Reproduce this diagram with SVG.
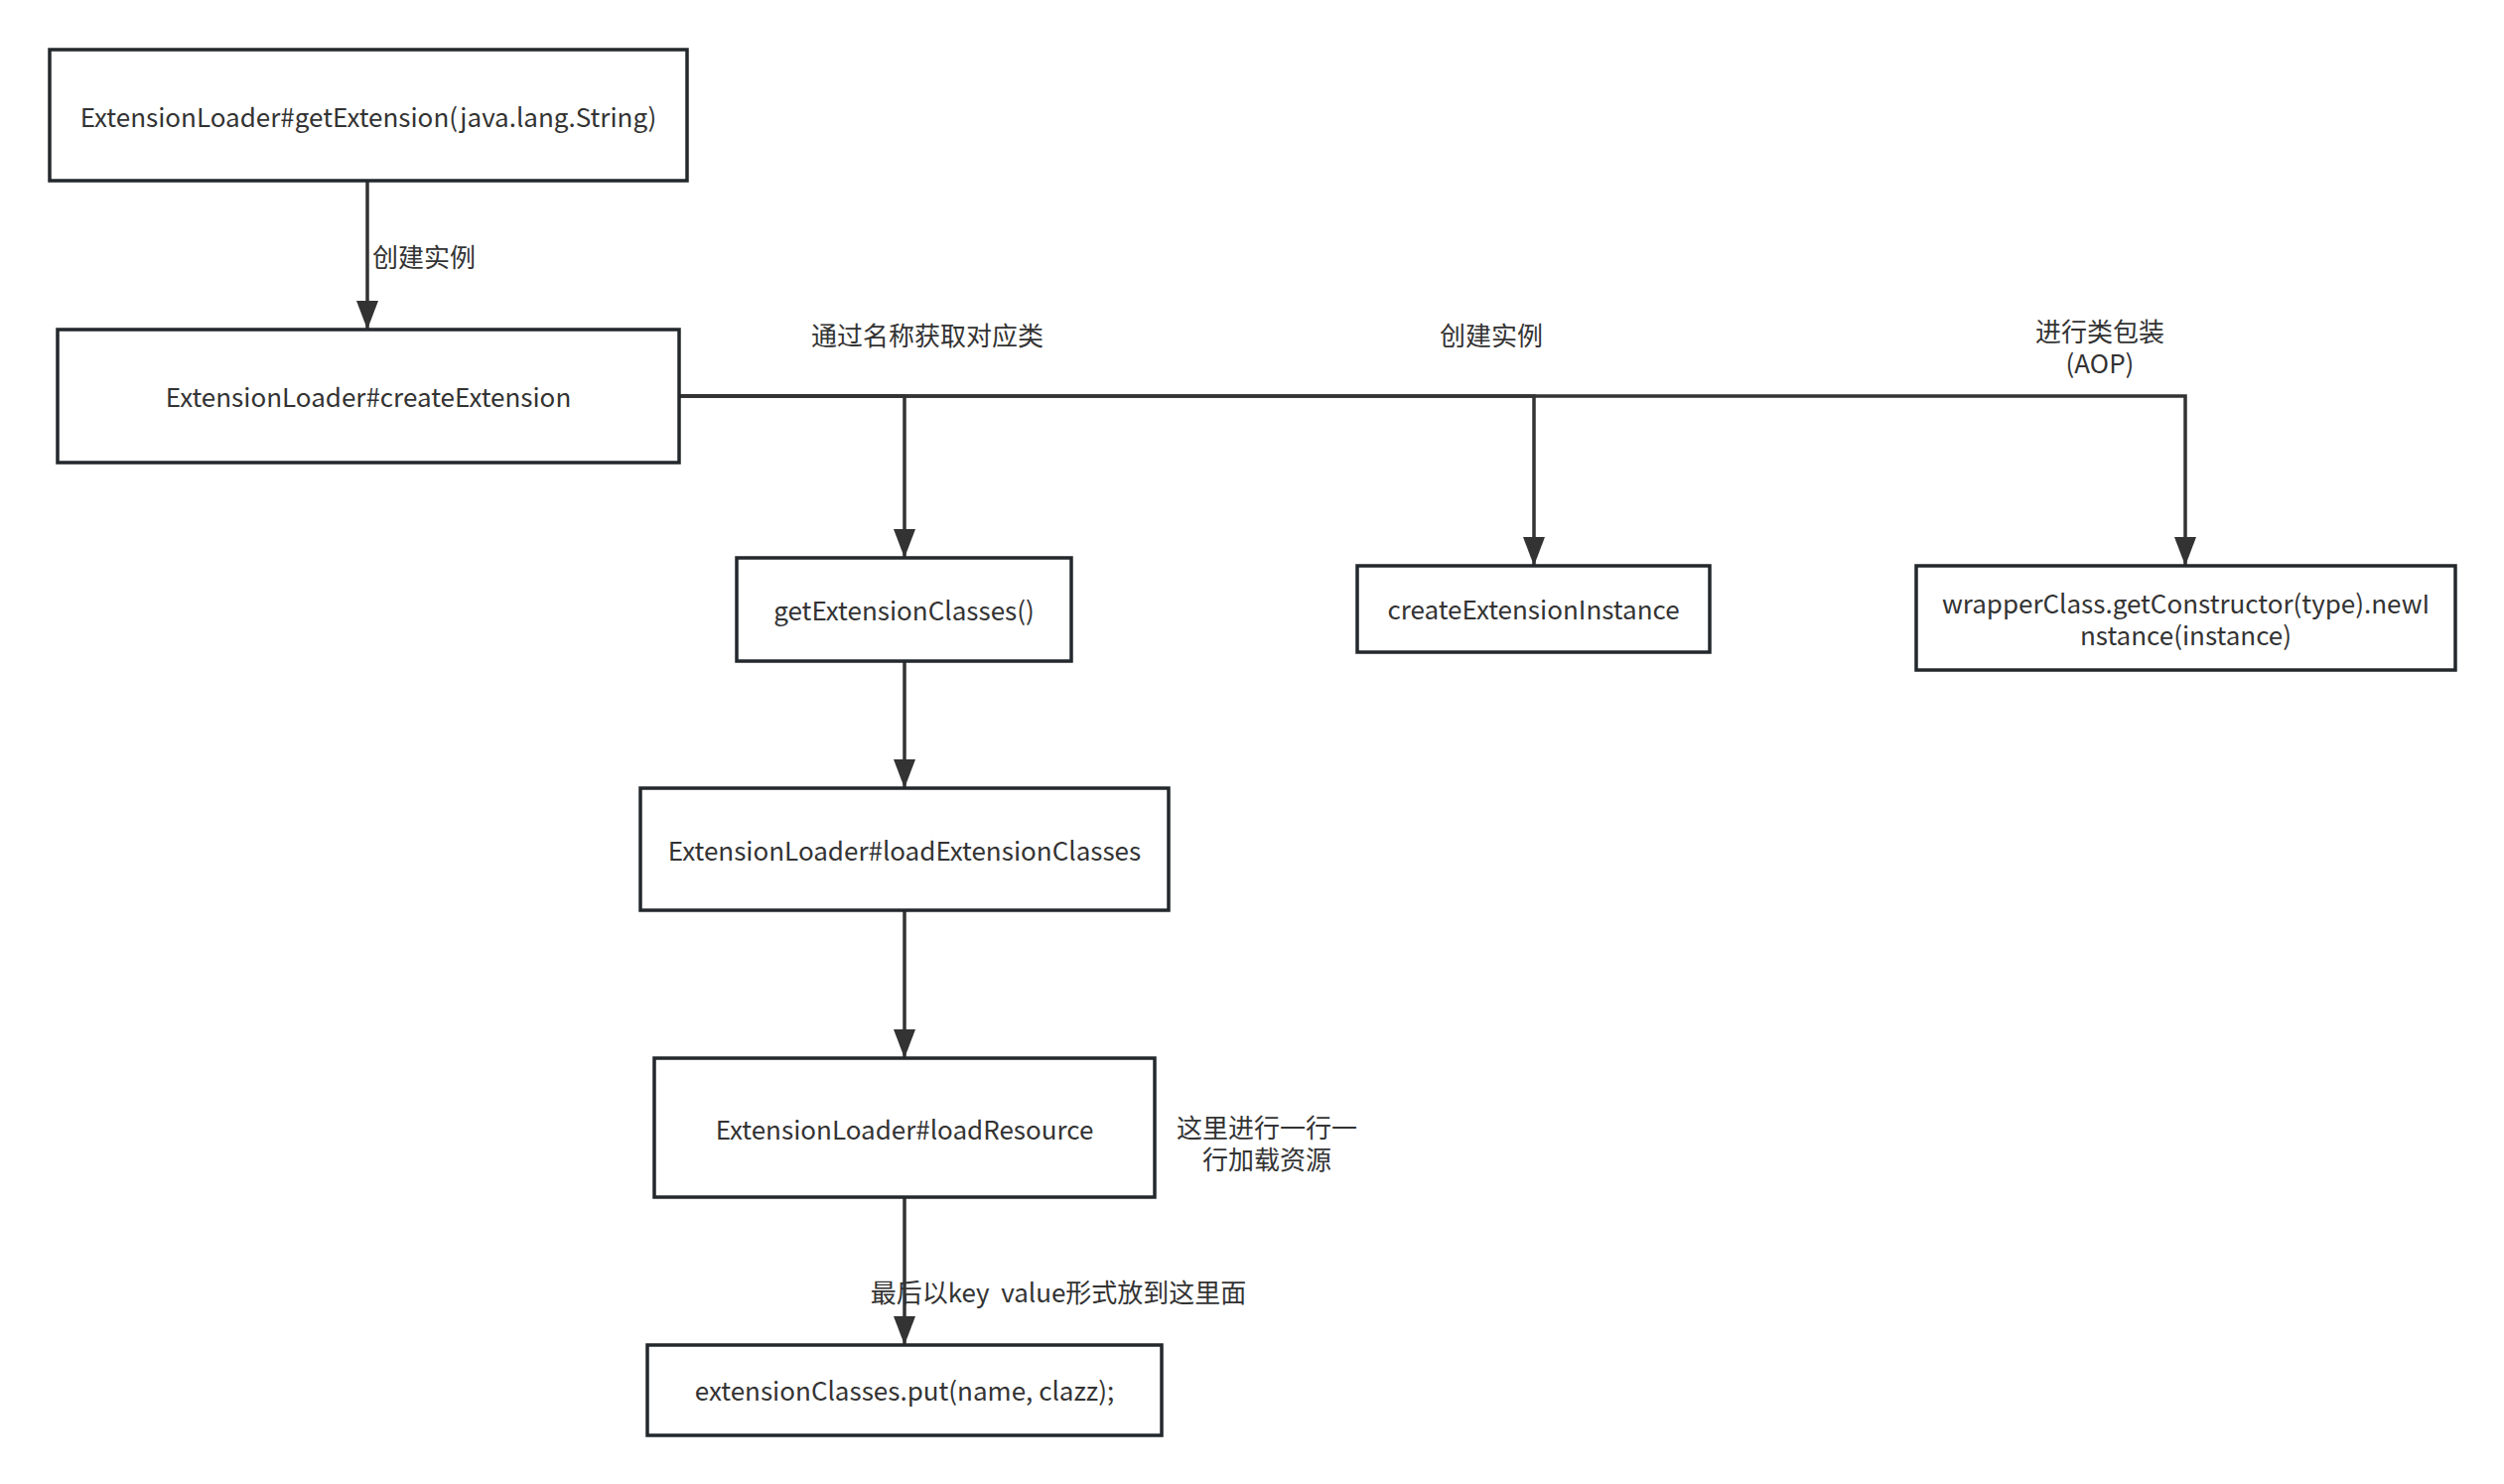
<svg xmlns="http://www.w3.org/2000/svg" width="2522" height="1495" viewBox="0 0 2522 1495">
<style>
  .box { fill: #ffffff; stroke: #23282d; stroke-width: 3.5; }
  .edge { fill: none; stroke: #333333; stroke-width: 3.5; }
  text { font-family: "Noto Sans CJK SC", "Liberation Sans", sans-serif; font-size: 26px; fill: #333333; dominant-baseline: central; white-space: pre; }
  .c { text-anchor: middle; }
</style>
<defs>
  <marker id="arr" markerUnits="userSpaceOnUse" markerWidth="32" markerHeight="24" refX="29" refY="11" orient="auto">
    <path d="M0,0 L29,11 L0,22 Z" fill="#333333"/>
  </marker>
</defs>
<rect width="2522" height="1495" fill="#ffffff"/>
<g id="connectors">
  <path class="edge" d="M370,182 V332" marker-end="url(#arr)"/>
  <path class="edge" d="M684,399 H911 V562" marker-end="url(#arr)"/>
  <path class="edge" d="M684,399 H1545 V570" marker-end="url(#arr)"/>
  <path class="edge" d="M684,399 H2201 V570" marker-end="url(#arr)"/>
  <path class="edge" d="M911,666 V794" marker-end="url(#arr)"/>
  <path class="edge" d="M911,917 V1066" marker-end="url(#arr)"/>
  <path class="edge" d="M911,1206 V1355" marker-end="url(#arr)"/>
  <text x="375" y="257">创建实例</text>
  <text class="c" x="934" y="336">通过名称获取对应类</text>
  <text class="c" x="1502" y="336">创建实例</text>
  <text class="c" x="2115" y="332">进行类包装</text>
  <text class="c" x="2115" y="364">(AOP)</text>
  <text class="c" x="1066" y="1300">最后以key  value形式放到这里面</text>
</g>
<g id="n-getExtension">
  <rect class="box" x="50" y="50" width="642" height="132"/>
  <text class="c" x="371" y="116">ExtensionLoader#getExtension(java.lang.String)</text>
</g>
<g id="n-createExtension">
  <rect class="box" x="58" y="332" width="626" height="134"/>
  <text class="c" x="371" y="398">ExtensionLoader#createExtension</text>
</g>
<g id="n-getExtensionClasses">
  <rect class="box" x="742" y="562" width="337" height="104"/>
  <text class="c" x="910.5" y="613">getExtensionClasses()</text>
</g>
<g id="n-createExtensionInstance">
  <rect class="box" x="1367" y="570" width="355" height="87"/>
  <text class="c" x="1544.5" y="612">createExtensionInstance</text>
</g>
<g id="n-wrapper">
  <rect class="box" x="1930" y="570" width="543" height="105"/>
  <text class="c" x="2201.5" y="606">wrapperClass.getConstructor(type).newI</text>
  <text class="c" x="2201.5" y="638">nstance(instance)</text>
</g>
<g id="n-loadExtensionClasses">
  <rect class="box" x="645" y="794" width="532" height="123"/>
  <text class="c" x="911" y="855">ExtensionLoader#loadExtensionClasses</text>
</g>
<g id="n-loadResource">
  <rect class="box" x="659" y="1066" width="504" height="140"/>
  <text class="c" x="911" y="1136">ExtensionLoader#loadResource</text>
</g>
<g id="n-note">
  <text class="c" x="1276" y="1134">这里进行一行一</text>
  <text class="c" x="1276" y="1166">行加载资源</text>
</g>
<g id="n-put">
  <rect class="box" x="652" y="1355" width="518" height="91"/>
  <text class="c" x="911" y="1399">extensionClasses.put(name, clazz);</text>
</g>
</svg>
